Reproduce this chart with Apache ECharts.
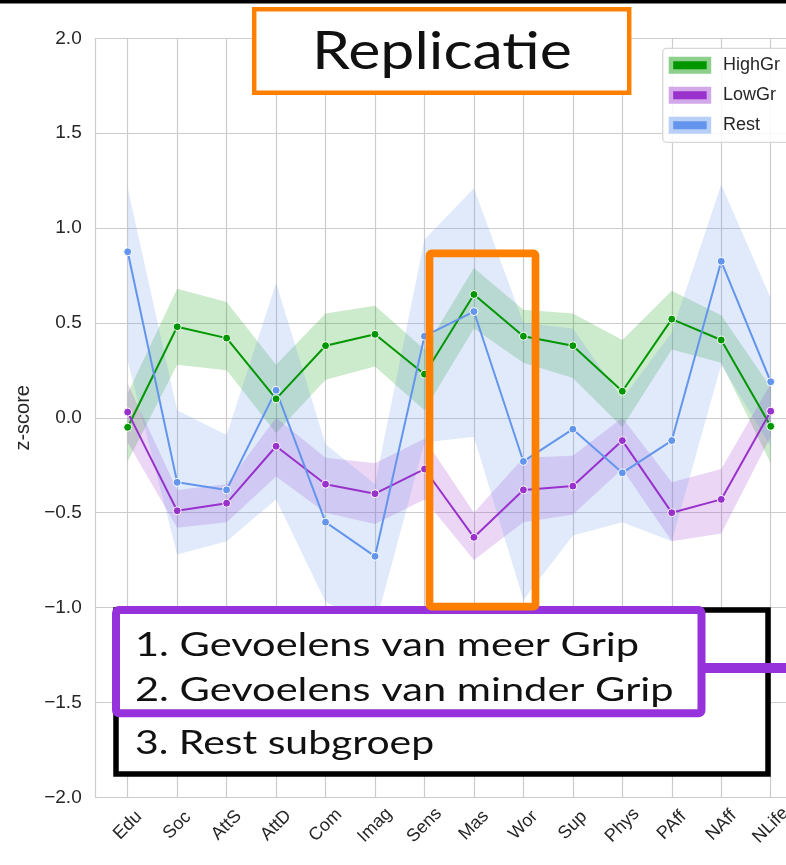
<!DOCTYPE html>
<html>
<head>
<meta charset="utf-8">
<script src="https://cdn.jsdelivr.net/npm/echarts@6/dist/echarts.min.js"></script>
<style>
  html, body { margin: 0; padding: 0; background: #fff; }
  #chart { width: 786px; height: 865px; }
</style>
</head>
<body>
<div id="chart"></div>
<script>
// categories on the x axis
const categories = ["Edu", "Soc", "AttS", "AttD", "Com", "Imag", "Sens", "Mas", "Wor", "Sup", "Phys", "PAff", "NAff", "NLife"];
const yTicks = [-2, -1.5, -1, -0.5, 0, 0.5, 1, 1.5, 2];

// HighGr mean + confidence band
const highMean = [-0.05, 0.48, 0.42, 0.10, 0.38, 0.44, 0.23, 0.65, 0.43, 0.38, 0.14, 0.52, 0.41, -0.045];
const highLow  = [-0.23, 0.28, 0.25, -0.08, 0.20, 0.27, 0.04, 0.47, 0.29, 0.21, -0.05, 0.36, 0.29, -0.24];
const highUp   = [0.13, 0.68, 0.61, 0.28, 0.55, 0.59, 0.36, 0.79, 0.57, 0.55, 0.41, 0.67, 0.54, 0.16];

// LowGr mean + confidence band
const lowMean = [0.03, -0.49, -0.45, -0.15, -0.35, -0.40, -0.27, -0.63, -0.38, -0.36, -0.12, -0.50, -0.43, 0.035];
const lowLow  = [-0.13, -0.58, -0.55, -0.31, -0.50, -0.56, -0.43, -0.75, -0.55, -0.51, -0.27, -0.65, -0.61, -0.10];
const lowUp   = [0.18, -0.38, -0.35, 0.00, -0.21, -0.24, -0.11, -0.50, -0.21, -0.20, 0.00, -0.34, -0.27, 0.18];

// Rest mean + confidence band
const restMean = [0.875, -0.34, -0.38, 0.145, -0.55, -0.73, 0.43, 0.56, -0.23, -0.06, -0.29, -0.12, 0.825, 0.19];
const restLow  = [0.30, -0.72, -0.65, -0.43, -0.97, -1.10, -0.13, -0.10, -0.96, -0.62, -0.55, -0.65, 0.28, -0.15];
const restUp   = [1.21, 0.04, -0.09, 0.71, -0.14, -0.35, 0.94, 1.21, 0.50, 0.47, 0.10, 0.45, 1.23, 0.63];

const groups = [
  { name: "HighGr", color: "#009600", light: "#8cd08c", mean: highMean, low: highLow, up: highUp },
  { name: "LowGr", color: "#9932cc", light: "#d2a8ea", mean: lowMean, low: lowLow, up: lowUp },
  { name: "Rest", color: "#6495ed", light: "#b8cff7", mean: restMean, low: restLow, up: restUp },
];

const fmt = (v) => (v < 0 ? "\u2212" : "") + Math.abs(v).toFixed(1);

const series = [];
groups.forEach((g, i) => {
  series.push({
    name: g.name + "_lo",
    type: "line",
    xAxisIndex: 1,
    yAxisIndex: 1,
    stack: "band" + i,
    stackStrategy: "all",
    data: g.low,
    symbol: "none",
    lineStyle: { opacity: 0 },
    silent: true,
    z: 2,
  });
  series.push({
    name: g.name + "_band",
    type: "line",
    xAxisIndex: 1,
    yAxisIndex: 1,
    stack: "band" + i,
    stackStrategy: "all",
    data: g.up.map((u, k) => u - g.low[k]),
    symbol: "none",
    lineStyle: { opacity: 0 },
    areaStyle: { color: g.color, opacity: 0.2 },
    silent: true,
    z: 2,
  });
});
groups.forEach((g) => {
  series.push({
    name: g.name,
    type: "line",
    xAxisIndex: 1,
    yAxisIndex: 1,
    data: g.mean,
    symbol: "circle",
    symbolSize: 8,
    lineStyle: { color: g.color, width: 2 },
    itemStyle: { color: g.color, borderColor: "#fff", borderWidth: 1 },
    z: 5,
  });
});

const chart = echarts.init(document.getElementById("chart"));
const option = {
  animation: false,
  backgroundColor: "#fff",
  textStyle: { fontFamily: "Liberation Sans" },
  grid: [
    { left: 95.7, top: 38.3, width: 707, height: 759, outerBoundsMode: "none" },
    { left: 127.7, top: 38.3, width: 643, height: 759, outerBoundsMode: "none" },
  ],
  xAxis: [
    {
      gridIndex: 0, type: "value", min: 0, max: 1,
      axisLine: { show: true, onZero: false, lineStyle: { color: "#cccccc", width: 1.2 } },
      axisTick: { show: false }, axisLabel: { show: false }, splitLine: { show: false },
    },
    {
      gridIndex: 1, type: "category", data: categories, boundaryGap: false,
      axisLine: { show: false }, axisTick: { show: false },
      axisLabel: {
        interval: 0, rotate: 45, margin: 28, fontSize: 18, color: "#262626",
        align: "center", verticalAlign: "middle",
      },
      splitLine: { show: true, interval: 0, lineStyle: { color: "#cccccc", width: 1.2 } },
    },
  ],
  yAxis: [
    {
      gridIndex: 0, type: "value", min: -2, max: 2, interval: 0.5,
      name: "z-score", nameLocation: "middle", nameGap: 62,
      nameTextStyle: { fontSize: 20, color: "#262626" },
      axisLine: { show: true, lineStyle: { color: "#cccccc", width: 1.2 } },
      axisTick: { show: false },
      axisLabel: { fontSize: 19, color: "#262626", margin: 14, formatter: fmt },
      splitLine: { lineStyle: { color: "#cccccc", width: 1.2 } },
    },
    {
      gridIndex: 1, type: "value", min: -2, max: 2, interval: 0.5,
      axisLine: { show: false }, axisTick: { show: false }, axisLabel: { show: false }, splitLine: { show: false },
    },
  ],
  legend: {
    orient: "vertical",
    left: 662.7,
    top: 48.3,
    padding: [8, 10, 8, 6],
    itemGap: 12,
    itemWidth: 38,
    itemHeight: 12.5,
    icon: "rect",
    backgroundColor: "rgba(255,255,255,0.85)",
    borderColor: "#d8d8d8",
    borderWidth: 1.3,
    borderRadius: 4,
    textStyle: { fontSize: 18, color: "#262626", padding: [0, 0, 0, 9] },
    data: groups.map((g) => ({
      name: g.name,
      itemStyle: { color: g.color, borderColor: g.light, borderWidth: 4.5 },
    })),
  },
  graphic: [
    { type: "rect", z: 100, shape: { x: 0, y: 0, width: 786, height: 3.5 }, style: { fill: "#000" } },
    {
      type: "rect", z: 100, shape: { x: 254.2, y: 9.2, width: 375, height: 83.5 },
      style: { fill: "#fff", stroke: "#ff8000", lineWidth: 4.5 },
    },
    {
      type: "text", z: 101, x: 442, y: 52, scaleX: 1.17,
      style: { text: "Replicatie", fontFamily: "Lato", fontSize: 52, fill: "#111", align: "center", verticalAlign: "middle" },
    },
    {
      type: "rect", z: 100, shape: { x: 116, y: 610, width: 652, height: 164 },
      style: { fill: "#fff", stroke: "#000", lineWidth: 5.5 },
    },
    { type: "rect", z: 101, shape: { x: 700, y: 663, width: 86, height: 10 }, style: { fill: "#9632dc" } },
    {
      type: "rect", z: 102, shape: { x: 116, y: 610, width: 585.5, height: 103.3, r: 3 },
      style: { fill: "#fff", stroke: "#9632dc", lineWidth: 8 },
    },
    {
      type: "rect", z: 103, shape: { x: 429.5, y: 253.3, width: 106, height: 353.4, r: 2 },
      style: { fill: "none", stroke: "#ff8000", lineWidth: 7.7 },
    },
    {
      type: "text", z: 104, x: 135, y: 645, scaleX: 1.26,
      style: { text: "1. Gevoelens van meer Grip", fontFamily: "Lato", fontSize: 33, fill: "#111", verticalAlign: "middle" },
    },
    {
      type: "text", z: 104, x: 135, y: 690, scaleX: 1.26,
      style: { text: "2. Gevoelens van minder Grip", fontFamily: "Lato", fontSize: 33, fill: "#111", verticalAlign: "middle" },
    },
    {
      type: "text", z: 104, x: 135, y: 743, scaleX: 1.24,
      style: { text: "3. Rest subgroep", fontFamily: "Lato", fontSize: 33, fill: "#111", verticalAlign: "middle" },
    },
  ],
  series: series,
};
chart.setOption(option);
</script>
</body>
</html>
